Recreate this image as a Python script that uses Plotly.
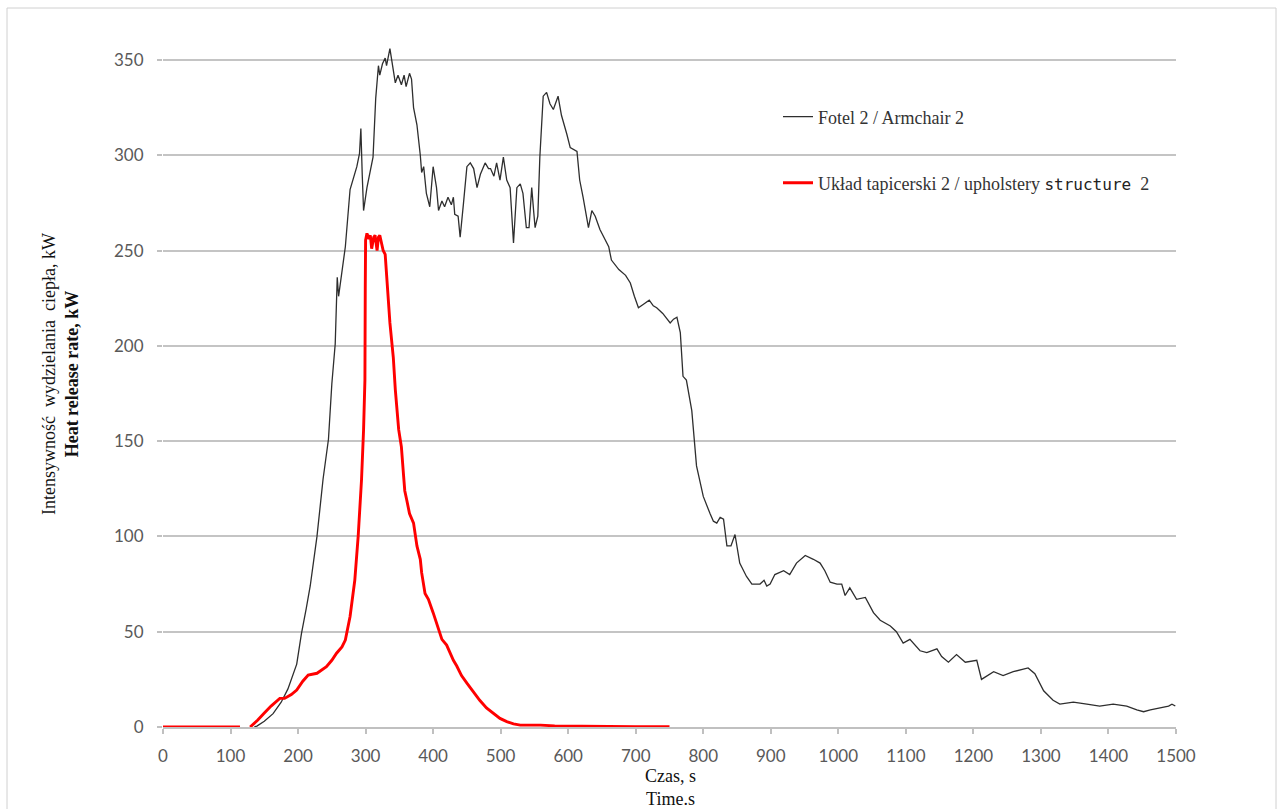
import plotly.graph_objects as go

# ---- data ----
armchair_t = [135, 139, 150, 163, 175, 185, 198, 205, 212, 218, 228, 237, 245, 250, 255, 257, 258, 260,
              265, 270, 277, 287, 291, 293, 295, 297, 302, 311, 315, 319, 321, 325, 329, 331, 336, 340,
              344, 348, 353, 357, 360, 365, 368, 371, 376, 381, 383, 386, 390, 395, 400, 405, 408, 413,
              417, 422, 427, 430, 432, 437, 440, 445, 450, 455, 460, 465, 470, 477, 482, 485, 490, 494,
              499, 504, 509, 514, 519, 524, 529, 533, 538, 542, 546, 549, 551, 555, 558, 563, 568, 573,
              578, 585, 590, 598, 603, 613, 617, 622, 630, 635, 640, 647, 655, 660, 664, 675, 685, 692,
              698, 704, 712, 720, 726, 731, 740, 751, 756, 761, 766, 770, 775, 783, 790, 800, 810, 815,
              820, 825, 830, 835, 841, 847, 854, 864, 872, 884, 890, 894, 899, 906, 919, 928, 938, 951,
              963, 973, 980, 988, 998, 1005, 1010, 1017, 1027, 1040, 1052, 1062, 1077, 1086, 1096, 1106,
              1121, 1131, 1146, 1153, 1163, 1175, 1188, 1205, 1212, 1230, 1244, 1259, 1281, 1291, 1304,
              1318, 1328, 1348, 1368, 1387, 1407, 1427, 1442, 1452, 1462, 1476, 1489, 1494, 1499]
armchair_hrr = [0, 0.5, 3, 7, 13, 20, 33, 49, 62, 74, 100, 130, 151, 180, 201, 228, 236, 226,
                238, 252, 282, 294, 301, 314, 290, 271, 283, 299, 330, 347, 342, 348, 351, 347, 356, 348,
                338, 342, 337, 342, 336, 343, 340, 325, 316, 300, 291, 294, 280, 273, 294, 283, 271, 276,
                273, 278, 274, 278, 269, 268, 257, 275, 294, 296, 293, 283, 290, 296, 293, 293, 289, 296,
                287, 299, 287, 283, 254, 283, 285, 280, 262, 262, 283, 270, 262, 268, 299, 331, 333, 327,
                324, 331, 321, 311, 304, 302, 287, 278, 262, 271, 268, 261, 255, 252, 245, 240, 237, 233,
                226, 220, 222, 224, 221, 220, 217, 212, 214, 215, 207, 184, 182, 166, 137, 121, 112, 108,
                107, 110, 109, 95, 95, 101, 86, 79, 75, 75, 77, 74, 75, 80, 82, 80, 86, 90,
                88, 86, 82, 76, 75, 75, 69, 73, 67, 68, 60, 56, 53, 50, 44, 46,
                40, 39, 41, 37, 34, 38, 34, 35, 25, 29, 27, 29, 31, 28, 19,
                14, 12, 13, 12, 11, 12, 11, 9, 8, 9, 10, 11, 12, 11]

uph_t = [0, 50, 100, 114, 121, 129, 140, 149, 160, 173, 180, 190, 198, 207, 215, 228, 235, 242, 250,
         257, 265, 270, 277, 284, 289, 294, 297, 299, 299.5, 300, 302, 305, 307, 309, 312, 314, 317,
         319, 321, 324, 326, 329, 331, 336, 341, 344, 349, 353, 356, 358, 361, 365, 371, 376, 381,
         383, 388, 393, 400, 407, 413, 420, 425, 430, 435, 442, 450, 460, 469, 479, 489, 499, 509,
         519, 529, 545, 559, 580, 600, 650, 700, 750]
uph_hrr = [0, 0, 0, 0, None, 0, 3.5, 7, 11, 15, 15, 17, 19.4, 24, 27.3, 28.2, 30, 31.6, 35,
           38.7, 42, 45.6, 58, 77, 100, 130, 156, 182, 230, 255.5, 259, 256, 258, 251, 257, 258, 250,
           257, 258, 252, 250, 248, 238, 212, 194, 177, 156, 147, 133, 124, 119, 112, 107, 95, 88,
           81, 70, 67, 60, 52, 46, 43, 39, 35, 32, 27, 23, 18, 14, 10, 7, 4.5, 2.8,
           1.6, 1, 1, 1, 0.6, 0.5, 0.3, 0.2, 0.2]

x_ticks = list(range(0, 1501, 100))
y_ticks = list(range(0, 351, 50))

SERIF = "Liberation Serif"
SANS = "Lato"

fig = go.Figure()
fig.add_trace(go.Scatter(
    x=armchair_t, y=armchair_hrr, mode="lines", name="Fotel 2 / Armchair 2",
    line=dict(color="#2e2e2e", width=1.3), legend="legend"))
fig.add_trace(go.Scatter(
    x=uph_t, y=uph_hrr, mode="lines", connectgaps=False,
    name="Układ tapicerski 2 / upholstery <span style=\"font-family:'DejaVu Sans Mono';font-size:16px;color:#222\">structure</span>  2",
    line=dict(color="#ff0000", width=2.9), legend="legend2"))

H = 809
top, bot = 31, 82
plot_h = H - top - bot


def ypaper(py):
    return (H - bot - py) / plot_h


def xpaper(px):
    return (px - 163) / 1013


legend_common = dict(
    bgcolor="rgba(0,0,0,0)", borderwidth=0,
    font=dict(family=SERIF, size=18, color="#333333"),
    xanchor="left", yanchor="middle", itemwidth=30,
)

fig.update_layout(
    width=1282, height=809,
    margin=dict(l=163, r=106, t=top, b=bot),
    paper_bgcolor="white", plot_bgcolor="white",
    legend=dict(x=xpaper(778), y=ypaper(117), **legend_common),
    legend2=dict(x=xpaper(778), y=ypaper(183), **legend_common),
    xaxis=dict(
        range=[0, 1500], tickvals=x_ticks, ticktext=[str(v) for v in x_ticks],
        showgrid=False, zeroline=False,
        showline=True, linecolor="#c0c0c0", linewidth=2,
        ticks="outside", ticklen=5, tickcolor="#c0c0c0", tickwidth=1.5,
        tickfont=dict(family=SANS, size=17, color="#595959"),
        ticklabelstandoff=8,
    ),
    yaxis=dict(
        range=[0, 365.2], tickvals=y_ticks, ticktext=[str(v) for v in y_ticks],
        showgrid=True, gridcolor="#c4c4c4", gridwidth=2,
        zeroline=False, showline=False,
        ticks="outside", ticklen=5, tickcolor="#c0c0c0", tickwidth=1.5,
        tickfont=dict(family=SANS, size=17, color="#595959"),
        ticklabelstandoff=10,
    ),
    annotations=[
        dict(text="Intensywność  wydzielania  ciepła, kW<br><b>Heat release rate, kW</b>",
             xref="paper", yref="paper", x=xpaper(60), y=ypaper(374),
             xanchor="center", yanchor="middle", textangle=-90, showarrow=False,
             font=dict(family=SERIF, size=18, color="#111111")),
        dict(text="Czas, s<br>Time.s",
             xref="paper", yref="paper", x=xpaper(670), y=ypaper(787),
             xanchor="center", yanchor="middle", showarrow=False,
             font=dict(family=SERIF, size=18, color="#111111")),
    ],
    shapes=[
        dict(type="rect", xref="paper", yref="paper",
             x0=xpaper(7), x1=xpaper(1276), y0=ypaper(830), y1=ypaper(8),
             line=dict(color="#d0d0d0", width=1), fillcolor="rgba(0,0,0,0)", layer="below"),
    ],
    showlegend=True,
)

fig.write_html("out.html")
